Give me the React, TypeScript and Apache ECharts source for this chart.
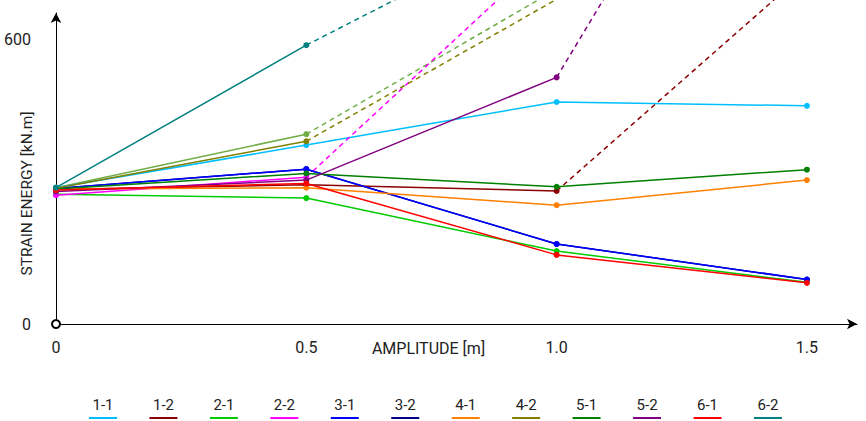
import React, { useEffect, useRef } from "react";
import * as echarts from "echarts";

// amplitude values [m]
const amplitudes = [0, 0.5, 1.0, 1.5];
const xTickLabels = ["0", "0.5", "1.0", "1.5"];
const yTickValues = [0, 600];
const yTickLabels = ["0", "600"];

const seriesNames = ["1-1", "1-2", "2-1", "2-2", "3-1", "3-2", "4-1", "4-2", "5-1", "5-2", "6-1", "6-2"];
const seriesColors = [
  "#00BFFF", "#8B0000", "#00CC00", "#FF00FF", "#0000FF", "#000080",
  "#FF8000", "#808000", "#008000", "#800080", "#FF0000", "#008080",
];

// strain energy [kN.m] per amplitude (null = no value)
const s1_1 = [288, 378, 469, 461];
const s1_2 = [284, 294, 281, 746];
const s2_1 = [274, 266, 154, 88];
const s2_2 = [272, 310, 800, null];
const s3_1 = [286, 327, 169, 94];
const s3_2 = [286, 327, 169, 94];
const s4_1 = [285, 288, 251, 304];
const s4_2 = [287, 386, 686, null];
const s5_1 = [285, 318, 290, 326];
const s5_2 = [280, 304, 521, 1400];
const s6_1 = [283, 297, 146, 87];
const s6_2 = [288, 589, 860, null];
// unlabeled light-green curve (not in legend)
const sExtra = [288, 401, 707, null];
const extraColor = "#70AD47";

// index of the point where the dashed segment starts (-1 = none)
const dashedFrom = [-1, 2, -1, 1, -1, -1, -1, 1, -1, 2, -1, 1];
const extraDashedFrom = 1;

const allValues = [s1_1, s1_2, s2_1, s2_2, s3_1, s3_2, s4_1, s4_2, s5_1, s5_2, s6_1, s6_2];

const FONT = "Roboto";

function buildSeries(name: string, color: string, vals: (number | null)[], dFrom: number, z: number) {
  const pts = amplitudes.map((x, i) => [x, vals[i]] as [number, number | null]);
  const solidEnd = dFrom >= 0 ? dFrom : pts.length - 1;
  const solid = pts.slice(0, solidEnd + 1).filter((p) => p[1] !== null);
  const out: any[] = [
    {
      name,
      type: "line",
      data: solid,
      z,
      symbol: "circle",
      symbolSize: 6,
      showSymbol: true,
      itemStyle: { color },
      lineStyle: { color, width: 1.5 },
    },
  ];
  if (dFrom >= 0) {
    const dashed = pts.slice(dFrom, dFrom + 2).filter((p) => p[1] !== null);
    out.push({
      name: name + " (dashed)",
      type: "line",
      data: dashed,
      z,
      clip: false,
      showSymbol: false,
      symbol: "none",
      itemStyle: { color },
      lineStyle: { color, width: 1.5, type: [5, 4] },
    });
  }
  return out;
}

export default function App() {
  const ref = useRef<HTMLDivElement>(null);
  useEffect(() => {
    if (!ref.current) return;
    const chart = echarts.init(ref.current, null, { renderer: "svg" });

    const series: any[] = [];
    series.push(...buildSeries("extra", extraColor, sExtra, extraDashedFrom, 2));
    allValues.forEach((vals, i) => {
      series.push(...buildSeries(seriesNames[i], seriesColors[i], vals, dashedFrom[i], seriesNames[i] === "3-2" ? 1 : 2));
    });

    const legendStart = 103;
    const legendStep = 60.45;
    const legendGraphics: any[] = [];
    seriesNames.forEach((n, i) => {
      const cx = legendStart + i * legendStep;
      legendGraphics.push({
        type: "text",
        x: cx,
        y: 405,
        style: {
          text: n,
          fill: "#222",
          font: `15px ${FONT}`,
          textAlign: "center",
          textVerticalAlign: "middle",
        },
      });
      legendGraphics.push({
        type: "line",
        shape: { x1: cx - 14, y1: 418, x2: cx + 14, y2: 418 },
        style: { stroke: seriesColors[i], lineWidth: 2 },
      });
    });

    chart.setOption({
      animation: false,
      backgroundColor: "#fff",
      grid: { left: 56, right: 9, top: 13, bottom: 97, containLabel: false, outerBoundsMode: "none" },
      xAxis: {
        type: "value",
        min: 0,
        max: 1.6,
        interval: 0.5,
        name: "AMPLITUDE [m]",
        nameLocation: "middle",
        nameGap: 16,
        nameMoveOverlap: false,
        nameTextStyle: { fontFamily: FONT, fontSize: 16, color: "#222", padding: [0, 56, 0, 0] },
        splitLine: { show: false },
        axisTick: { show: false },
        axisLine: {
          show: true,
          symbol: ["emptyCircle", "arrow"],
          symbolSize: [8, 10],
          lineStyle: { color: "#000", width: 1 },
        },
        axisLabel: {
          show: true,
          showMaxLabel: false,
          margin: 15,
          fontFamily: FONT,
          fontSize: 16,
          color: "#222",
          formatter: (v: number) => {
            const idx = amplitudes.indexOf(v);
            return idx >= 0 ? xTickLabels[idx] : "";
          },
        },
      },
      yAxis: {
        type: "value",
        min: 0,
        max: 657,
        interval: 600,
        name: "STRAIN ENERGY [kN.m]",
        nameLocation: "middle",
        nameGap: 21,
        nameMoveOverlap: false,
        nameTextStyle: { fontFamily: FONT, fontSize: 15.5, color: "#222", padding: [0, 50, 0, 0] },
        splitLine: { show: false },
        axisTick: { show: false },
        axisLine: {
          show: true,
          symbol: ["none", "arrow"],
          symbolSize: [8, 10],
          lineStyle: { color: "#000", width: 1 },
        },
        axisLabel: {
          show: true,
          showMaxLabel: false,
          margin: 25,
          fontFamily: FONT,
          fontSize: 16,
          color: "#222",
          formatter: (v: number) => {
            const idx = yTickValues.indexOf(v);
            return idx >= 0 ? yTickLabels[idx] : "";
          },
        },
      },
      series,
      graphic: legendGraphics,
    });
    return () => chart.dispose();
  }, []);
  return <div ref={ref} style={{ position: "fixed", left: 0, top: 0, width: 866, height: 421 }} />;
}
